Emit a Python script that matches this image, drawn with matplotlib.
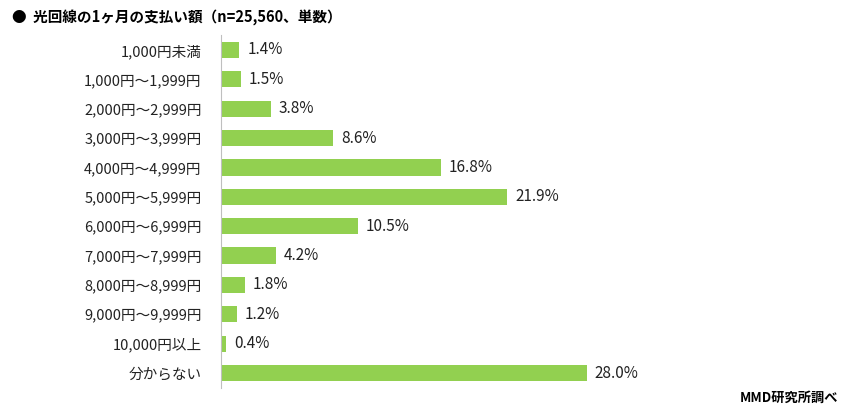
import matplotlib.pyplot as plt

plt.rcParams['font.family'] = 'Noto Sans CJK JP'

categories = ['1,000円未満', '1,000円～1,999円', '2,000円～2,999円', '3,000円～3,999円',
              '4,000円～4,999円', '5,000円～5,999円', '6,000円～6,999円', '7,000円～7,999円',
              '8,000円～8,999円', '9,000円～9,999円', '10,000円以上', '分からない']
values = [1.4, 1.5, 3.8, 8.6, 16.8, 21.9, 10.5, 4.2, 1.8, 1.2, 0.4, 28.0]

W, H = 845, 415
fig = plt.figure(figsize=(W / 100, H / 100), dpi=100)
ax = fig.add_axes([221 / W, 1 - 387.7 / H, (W - 221) / W, (387.7 - 35.3) / H])

y = range(len(categories))
ax.barh(y, values, height=0.55, color='#92D050')
ax.set_ylim(len(categories) - 0.5, -0.5)
ax.set_xlim(0, (W - 221) / 13.07)
ax.set_yticks(list(y))
ax.set_yticklabels(categories, fontsize=10.5, color='#222222')
ax.tick_params(axis='y', length=0, pad=14)
ax.set_xticks([])
for s in ['top', 'right', 'bottom']:
    ax.spines[s].set_visible(False)
ax.spines['left'].set_color('#BFBFBF')

for i, v in enumerate(values):
    ax.text(v + 0.6, i, f'{v:.1f}%', va='center', ha='left', fontsize=11, color='#222222')

fig.text(12 / W, 1 - 18 / H, '●  光回線の1ヶ月の支払い額（n=25,560、単数）',
         fontsize=10.5, fontweight='bold', va='center', ha='left')
fig.text(838 / W, 1 - 398 / H, 'MMD研究所調べ', fontsize=9.5, fontweight='bold',
         va='center', ha='right')

fig.savefig('out.png', dpi=100)
